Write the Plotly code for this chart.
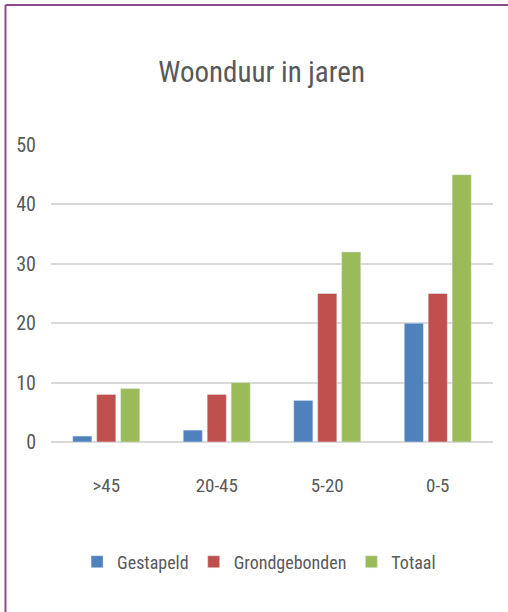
import plotly.graph_objects as go

categories = [">45", "20-45", "5-20", "0-5"]
gestapeld = [1, 2, 7, 20]
grondgebonden = [8, 8, 25, 25]
totaal = [9, 10, 32, 45]
y_ticks = [0, 10, 20, 30, 40, 50]

FONT = "Liberation Sans Narrow, Roboto Condensed, DejaVu Sans Condensed, Arial Narrow, sans-serif"
TXT = "#595959"

fig = go.Figure()
fig.add_trace(go.Bar(name="Gestapeld", x=categories, y=gestapeld, marker_color="#4F81BD"))
fig.add_trace(go.Bar(name="Grondgebonden", x=categories, y=grondgebonden, marker_color="#C0504D"))
fig.add_trace(go.Bar(name="Totaal", x=categories, y=totaal, marker_color="#9BBB59"))

W, H = 508, 612
L, R, T, B = 51, 15, 145, 170
pw, ph = W - L - R, H - T - B

def px(x):
    return (x - L) / pw

def py(y):
    return (H - B - y) / ph

fig.update_layout(
    width=W, height=H,
    margin=dict(l=L, r=R, t=T, b=B),
    paper_bgcolor="white", plot_bgcolor="white",
    barmode="group", bargap=0.35, bargroupgap=0.2,
    title=dict(text="Woonduur in jaren", x=0.515, xanchor="center", y=1 - 72 / H, yanchor="middle",
               font=dict(family=FONT, size=29, color=TXT)),
    font=dict(family=FONT, color=TXT),
    showlegend=True,
    legend=dict(orientation="h", xref="container", yref="container", x=0.51, xanchor="center",
                y=1 - 562 / H, yanchor="middle", font=dict(size=18, color=TXT), itemwidth=30,
                traceorder="normal"),
    xaxis=dict(showgrid=False, showline=False, ticks="", tickfont=dict(size=19, color=TXT),
               ticklabelstandoff=30),
    yaxis=dict(range=[0, 50], tickvals=y_ticks, showgrid=True, gridcolor="#D9D9D9", gridwidth=1.5,
               zeroline=True, zerolinecolor="#D9D9D9", zerolinewidth=1.5, showline=False, ticks="",
               tickfont=dict(size=20, color=TXT), ticklabelstandoff=14),
    shapes=[
        dict(type="line", xref="paper", yref="paper", x0=px(5.5), x1=px(5.5), y0=py(612), y1=py(5),
             line=dict(color="#8B4A8C", width=2)),
        dict(type="line", xref="paper", yref="paper", x0=px(5.5), x1=px(508), y0=py(5), y1=py(5),
             line=dict(color="#8B4A8C", width=2)),
    ],
)

fig.write_html("out.html", config={"displayModeBar": False},
               post_script="document.body.style.margin='0';document.body.style.overflow='hidden';")
